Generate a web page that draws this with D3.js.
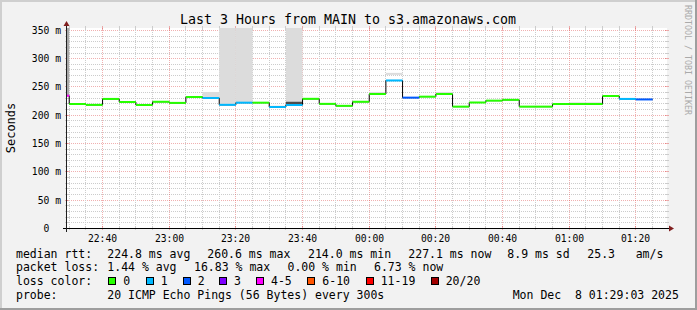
<!DOCTYPE html>
<html><head><meta charset="utf-8">
<script src="https://cdn.jsdelivr.net/npm/d3@7"></script>
<style>html,body{margin:0;padding:0;background:#f2f2f2;} svg{display:block;} text{white-space:pre;}</style>
</head><body>
<svg id="chart" width="697" height="310"></svg>
<script>
// ---------- data ----------
const titleText = "Last 3 Hours from MAIN to s3.amazonaws.com";
const intervalStarts = ["22:25","22:30","22:35","22:40","22:45","22:50","22:55","23:00","23:05","23:10",
  "23:15","23:20","23:25","23:30","23:35","23:40","23:45","23:50","23:55","00:00",
  "00:05","00:10","00:15","00:20","00:25","00:30","00:35","00:40","00:45","00:50",
  "00:55","01:00","01:05","01:10","01:15","01:20"];
const medianRtt = [233.7,219.0,217.5,228.0,222.6,217.3,223.0,221.0,231.4,229.7,
  217.6,221.4,221.4,213.8,217.3,228.2,219.3,215.8,223.0,236.7,
  260.6,230.3,232.0,236.7,214.4,221.7,225.0,226.4,214.4,214.4,
  219.0,219.0,219.0,233.2,228.0,227.1];
const lossCount = [4,0,0,0,0,0,0,0,0,1,
  1,1,0,1,1,0,0,0,0,0,
  1,2,0,0,0,0,0,0,0,0,
  0,0,0,0,1,2];
// smoke bands: interval start, low ms, high ms, density
const smokeStart   = ["22:25","23:10","23:15","23:20","23:30","23:35","23:35","00:00","00:05","00:20","01:00","01:05"];
const smokeLow     = [233.7, 229.7, 217.6, 221.4, 213.8, 217.3, 217.3, 236.7, 270.5, 236.7, 219.0, 219.0];
const smokeHigh    = [400,   240.3, 400,   400,   216.0, 400,   223.0, 240.3, 274.0, 240.3, 222.0, 222.0];
const smokeDensity = ["medium","light","light","light","light","light","dark","light","light","light","light","light"];
const yMax = 353.3;
const yMajorStep = 50, yMinorStep = 10;
const lossLabels = ["0","1","2","3","4-5","6-10","11-19","20/20"];
const lossUpper  = [0,1,2,3,5,10,19,20];
const lossColors = ["#26ff00","#00b8ff","#0059ff","#7e00ff","#ff00ff","#ff5500","#ff0000","#a10000"];
const rttStats  = ["224.8 ms avg","260.6 ms max","214.0 ms min","227.1 ms now","8.9 ms sd","25.3","am/s"];
const lossStats = ["1.44 % avg","16.83 % max","0.00 % min","6.73 % now"];
const probeText = "20 ICMP Echo Pings (56 Bytes) every 300s";
const dateText  = "Mon Dec  8 01:29:03 2025";
const yTitle = "Seconds";
const watermark = "RRDTOOL / TOBI OETIKER";

// ---------- drawing ----------
const svg = d3.select("#chart");
const W = 697, H = 310;
const L = 67, R = 667, T = 28, B = 228;
const mono = "'DejaVu Sans Mono', monospace";
const parseT = s => { const [h,m] = s.split(":").map(Number); return new Date(2025, 11, h >= 12 ? 7 : 8, h, m, 0); };
const x = d3.scaleTime().domain([new Date(2025,11,7,22,29,20), new Date(2025,11,8,1,29,20)]).range([L, R]);
const y = d3.scaleLinear().domain([0, yMax]).range([B, T]);
const step = 5 * 60 * 1000;

svg.append("rect").attr("width", W).attr("height", H).attr("fill", "#f2f2f2");
svg.append("rect").attr("x",0).attr("y",0).attr("width",W).attr("height",2).attr("fill","#cfcfcf");
svg.append("rect").attr("x",0).attr("y",0).attr("width",2).attr("height",H).attr("fill","#cfcfcf");
svg.append("rect").attr("x",0).attr("y",H-2).attr("width",W).attr("height",2).attr("fill","#9e9e9e");
svg.append("rect").attr("x",W-2).attr("y",0).attr("width",2).attr("height",H).attr("fill","#9e9e9e");

svg.append("rect").attr("x", L).attr("y", T).attr("width", R - L).attr("height", B - T).attr("fill", "#fff");

svg.append("defs").append("clipPath").attr("id","clip")
  .append("rect").attr("x", L).attr("y", T).attr("width", R - L).attr("height", B - T);

const gridMinor = "#cccccc", gridMajor = "rgba(222,79,79,0.45)";
const grid = svg.append("g");
// horizontal grid
d3.range(yMinorStep, yMax, yMinorStep).forEach(v => {
  const major = Math.round(v) % yMajorStep === 0;
  const yy = Math.round(y(v)) + 0.5;
  const c = major ? gridMajor : gridMinor;
  grid.append("line").attr("x1", L).attr("x2", R).attr("y1", yy).attr("y2", yy)
    .attr("stroke", c).attr("stroke-dasharray", "1,1");
  grid.append("line").attr("x1", L-2).attr("x2", L+2).attr("y1", yy).attr("y2", yy).attr("stroke", c);
  grid.append("line").attr("x1", R-2).attr("x2", R+2).attr("y1", yy).attr("y2", yy).attr("stroke", c);
});
// vertical grid
d3.timeMinute.every(5).range(x.domain()[0], x.domain()[1]).forEach(t => {
  const major = t.getMinutes() % 20 === 0;
  const xx = Math.floor(x(t)) + 0.5;
  const c = major ? gridMajor : gridMinor;
  grid.append("line").attr("x1", xx).attr("x2", xx).attr("y1", T).attr("y2", B)
    .attr("stroke", c).attr("stroke-dasharray", "1,1");
  grid.append("line").attr("x1", xx).attr("x2", xx).attr("y1", T-2).attr("y2", T+2).attr("stroke", c);
  grid.append("line").attr("x1", xx).attr("x2", xx).attr("y1", B-2).attr("y2", B+2).attr("stroke", c);
});

const plot = svg.append("g").attr("clip-path", "url(#clip)");
const shade = {light: "#dcdcdc", medium: "#a8a8a8", dark: "#4d4d4d"};
smokeStart.forEach((s, i) => {
  const t = parseT(s);
  const x0 = x(t), x1 = x(new Date(+t + step));
  const y0 = y(Math.min(smokeHigh[i], yMax + 20)), y1 = y(smokeLow[i]);
  plot.append("rect").attr("x", x0).attr("width", x1 - x0)
    .attr("y", y0).attr("height", y1 - y0).attr("fill", shade[smokeDensity[i]]);
});

const pts = intervalStarts.map((s, i) => [x(parseT(s)), y(medianRtt[i])]);
const lastT = parseT(intervalStarts[intervalStarts.length - 1]);
pts.push([x(new Date(+lastT + step)), y(medianRtt[medianRtt.length - 1])]);
plot.append("path").attr("d", d3.line().curve(d3.curveStepAfter)(pts))
  .attr("fill", "none").attr("stroke", "#000").attr("stroke-width", 1);

const bucket = n => lossUpper.findIndex(u => n <= u);
intervalStarts.forEach((s, i) => {
  const t = parseT(s);
  const yy = y(medianRtt[i]);
  plot.append("line").attr("x1", x(t)).attr("x2", x(new Date(+t + step)))
    .attr("y1", yy).attr("y2", yy)
    .attr("stroke", lossColors[bucket(lossCount[i])]).attr("stroke-width", 2);
});

// axes
svg.append("line").attr("x1", L - 4).attr("x2", R + 3).attr("y1", B + 0.5).attr("y2", B + 0.5).attr("stroke", "#000");
svg.append("path").attr("d", `M${R+2},${B-2.5}L${R+7},${B+0.5}L${R+2},${B+3.5}Z`).attr("fill", "#801f1f");
svg.append("line").attr("x1", L - 0.5).attr("x2", L - 0.5).attr("y1", B + 4).attr("y2", T - 3).attr("stroke", "#1f1f1f");
svg.append("path").attr("d", `M${L-3.5},${T-2}L${L-0.5},${T-7}L${L+2.5},${T-2}Z`).attr("fill", "#801f1f");

// tick labels
d3.timeMinute.every(20).range(x.domain()[0], x.domain()[1]).forEach(t => {
  svg.append("text").attr("x", Math.floor(x(t)) + 0.5).attr("y", 241.5).attr("text-anchor", "middle")
    .attr("font-family", mono).attr("font-size", "9.7px").attr("fill", "#000")
    .text(d3.timeFormat("%H:%M")(t));
});
d3.range(0, yMax, yMajorStep).forEach(v => {
  svg.append("text").attr("x", 61).attr("y", Math.round(y(v)) + 4).attr("text-anchor", "end")
    .attr("font-family", mono).attr("font-size", "9.7px").attr("fill", "#000")
    .text(v === 0 ? "0\u00a0\u00a0" : v + " m");
});

// title, y title, watermark
svg.append("text").attr("x", 348).attr("y", 23.5).attr("text-anchor", "middle")
  .attr("font-family", mono).attr("font-size", "13.3px").attr("fill", "#000").text(titleText);
svg.append("text").attr("transform", `translate(14.5,${(T+B)/2}) rotate(-90)`).attr("text-anchor", "middle")
  .attr("font-family", mono).attr("font-size", "12px").attr("fill", "#000").text(yTitle);
svg.append("text").attr("transform", "translate(684.5,5) rotate(90)").attr("text-anchor", "start")
  .attr("font-family", mono).attr("font-size", "8.3px").attr("fill", "#aaaaaa").text(watermark);

// legend
const lg = svg.append("g").attr("font-family", mono).attr("font-size", "11.5px").attr("fill", "#000");
const put = (tx, px, py) => lg.append("text").attr("x", px).attr("y", py).attr("xml:space", "preserve").text(tx);
const rows = [257.5, 271.3, 285.1, 298.9];
put("median rtt:", 16, rows[0]);
[107.3, 207.3, 308, 408.3, 507.3, 587.3, 635.7].forEach((px, i) => put(rttStats[i], px, rows[0]));
put("packet loss:", 16, rows[1]);
[107.3, 194, 287.5, 374].forEach((px, i) => put(lossStats[i], px, rows[1]));
put("loss color:", 16, rows[2]);
[108.3, 145.7, 182.7, 219, 256, 307.3, 365.7, 430.7].forEach((px, i) => {
  lg.append("rect").attr("x", Math.round(px) + 0.5).attr("y", 277.5).attr("width", 7).attr("height", 7)
    .attr("fill", lossColors[i]).attr("stroke", "#000").attr("stroke-width", 1);
  put(lossLabels[i], px + 15, rows[2]);
});
put("probe:", 16, rows[3]);
put(probeText, 107.3, rows[3]);
put(dateText, 512.7, rows[3]);
</script>
</body></html>
